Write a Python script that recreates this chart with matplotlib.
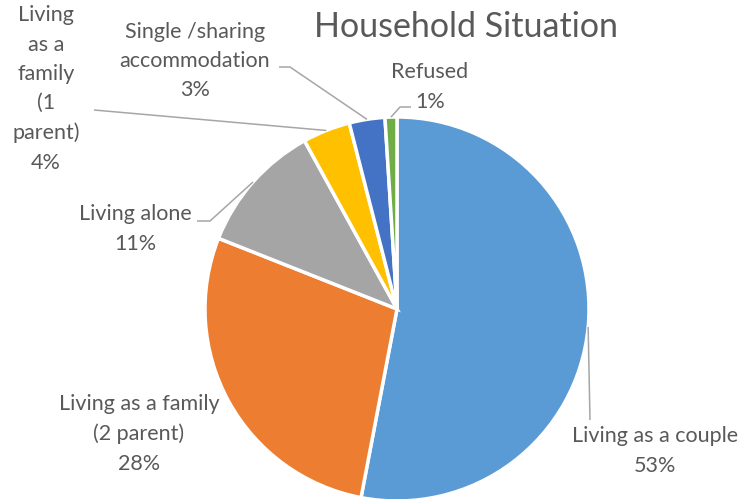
import numpy as np
import matplotlib
matplotlib.use('Agg')
import matplotlib.pyplot as plt

plt.rcParams['font.family'] = ['Lato', 'DejaVu Sans']

# ---- data ----
categories = ['Living as a couple', 'Living as a family\n(2 parent)', 'Living alone',
              'Living\nas a\nfamily\n(1\nparent)', 'Single /sharing\naccommodation', 'Refused']
shares = [53, 28, 11, 4, 3, 1]
colors = ['#5B9BD5', '#ED7D31', '#A5A5A5', '#FFC000', '#4472C4', '#70AD47']

TXT = '#595959'
LINE = '#A6A6A6'

W, H = 742, 499
fig = plt.figure(figsize=(W / 100, H / 100), dpi=100)
ax = fig.add_axes([0, 0, 1, 1])

cx, cy, R = 397, H - 309, 192
wedges, _ = ax.pie(shares, colors=colors, startangle=90, counterclock=False,
                   center=(cx, cy), radius=R, frame=True,
                   wedgeprops=dict(edgecolor='white', linewidth=2.5))
ax.set_xlim(0, W)
ax.set_ylim(0, H)
ax.set_aspect('equal')
ax.axis('off')


def anchor(w):
    a = np.radians((w.theta1 + w.theta2) / 2)
    return cx + R * np.cos(a), cy + R * np.sin(a)


def label(i, x, y, pts=None):
    txt = f'{categories[i]}\n{shares[i]}%'
    ax.text(x, H - y, txt, ha='center', va='center', fontsize=15.5,
            color=TXT, linespacing=1.58)
    if pts:
        ax0, ay0 = anchor(wedges[i])
        xs = [ax0] + [p[0] for p in pts]
        ys = [ay0] + [H - p[1] for p in pts]
        ax.plot(xs, ys, color=LINE, lw=1.1, solid_capstyle='butt')


# 标签与引线 (像素坐标, y 向下)
label(0, 655, 451, [(590, 420)])
label(1, 139, 434)
label(2, 135, 229, [(210, 221), (197, 221)])
label(3, 46, 89, [(94, 110)])
label(4, 195, 61, [(290, 67), (279, 67)])
label(5, 430, 87, [(400, 107), (411, 107)])

fig.text(466 / W, 1 - 27 / H, 'Household Situation', ha='center', va='center',
         fontsize=24.5, color=TXT)

fig.savefig('out.png', dpi=100)
